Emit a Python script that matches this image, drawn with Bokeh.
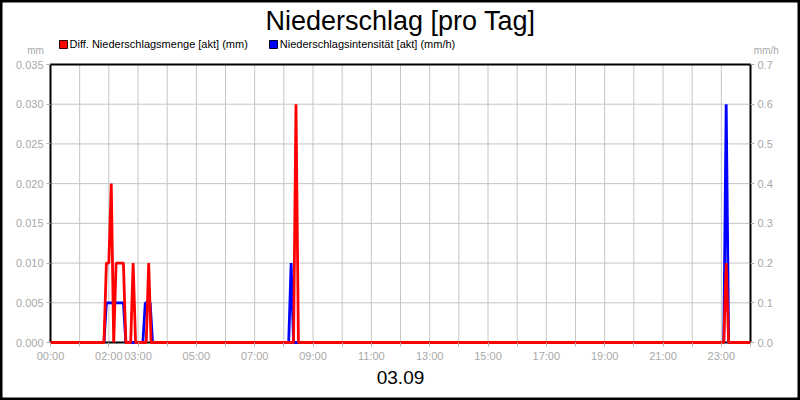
from bokeh.plotting import figure
from bokeh.models import (Range1d, LinearAxis, FixedTicker, PrintfTickFormatter,
                          Label, Legend, LegendItem)
from bokeh.embed import file_html
from bokeh.resources import INLINE

# ---------------- data ----------------
title_text = "Niederschlag [pro Tag]"
date_text = "03.09"
red_name = "Diff. Niederschlagsmenge [akt] (mm)"
blue_name = "Niederschlagsintensität [akt] (mm/h)"
left_unit = "mm"
right_unit = "mm/h"

x_tick_hours = [0, 1, 2, 3, 4, 5, 6, 7, 8, 9, 10, 11, 12,
                13, 14, 15, 16, 17, 18, 19, 20, 21, 22, 23, 24]
x_tick_labels = ["00:00", "", "02:00", "03:00", "", "05:00", "", "07:00", "",
                 "09:00", "", "11:00", "", "13:00", "", "15:00", "", "17:00", "",
                 "19:00", "", "21:00", "", "23:00", ""]
left_ticks = [0.0, 0.005, 0.010, 0.015, 0.020, 0.025, 0.030, 0.035]
right_ticks = [0.0, 0.1, 0.2, 0.3, 0.4, 0.5, 0.6, 0.7]

red_times = ["00:00", "01:50", "01:55", "02:00", "02:05", "02:10", "02:15", "02:20",
             "02:25", "02:30", "02:35", "02:45", "02:50", "02:55", "03:17", "03:22",
             "03:27", "08:20", "08:25", "08:30", "23:05", "23:10", "23:15", "24:00"]
red_values = [0, 0, 0.01, 0.01, 0.02, 0, 0.01, 0.01,
              0.01, 0.01, 0, 0, 0.01, 0, 0, 0.01,
              0, 0, 0.03, 0, 0, 0.01, 0, 0]

blue_times = ["00:00", "01:50", "01:55", "02:30", "02:35", "03:10", "03:15", "03:25",
              "03:30", "08:10", "08:15", "08:20", "23:05", "23:10", "23:15", "24:00"]
blue_values = [0, 0, 0.1, 0.1, 0, 0, 0.1, 0.1,
               0, 0, 0.2, 0, 0, 0.6, 0, 0]


def to_hours(t):
    h, m = t.split(":")
    return int(h) + int(m) / 60.0


red_x = [to_hours(t) for t in red_times]
blue_x = [to_hours(t) for t in blue_times]

# ---------------- layout (pixels) ----------------
W, H = 800, 400
PLOT_L, PLOT_R, PLOT_T, PLOT_B = 50, 750, 64, 342  # plot area in page pixels

x0, x1 = x_tick_hours[0], x_tick_hours[-1]
y0, y1 = left_ticks[0], left_ticks[-1]
r0, r1 = right_ticks[0], right_ticks[-1]
xpp = (x1 - x0) / (PLOT_R - PLOT_L)
ypp = (y1 - y0) / (PLOT_B - PLOT_T)
rpp = (r1 - r0) / (PLOT_B - PLOT_T)
xr = Range1d(x0 - PLOT_L * xpp, x1 + (W - PLOT_R) * xpp)
yr = Range1d(y0 - (H - PLOT_B) * ypp, y1 + PLOT_T * ypp)
rr = Range1d(r0 - (H - PLOT_B) * rpp, r1 + PLOT_T * rpp)

FONT = "Liberation Sans"
GRAY_TXT = "#a8a8a8"
GRID = "#c4c4c4"

p = figure(width=W, height=H, output_backend="svg", toolbar_location=None,
           title=None, x_range=xr, y_range=yr,
           min_border_left=0, min_border_right=0, min_border_top=0,
           min_border_bottom=0)
p.background_fill_color = "white"
p.border_fill_color = "white"
p.outline_line_color = "black"   # outer image frame
p.outline_line_width = 4
p.xgrid.grid_line_color = None
p.ygrid.grid_line_color = None

p.extra_y_ranges = {"right": rr}
raxis = LinearAxis(y_range_name="right", ticker=FixedTicker(ticks=right_ticks),
                   formatter=PrintfTickFormatter(format="%.1f"), fixed_location=x1)
p.add_layout(raxis, "right")

laxis = p.left[0]
laxis.ticker = FixedTicker(ticks=left_ticks)
laxis.formatter = PrintfTickFormatter(format="%.3f")
laxis.fixed_location = x0

xaxis = p.below[0]
xaxis.ticker = FixedTicker(ticks=x_tick_hours)
xaxis.major_label_overrides = {h: lab for h, lab in zip(x_tick_hours, x_tick_labels)}
xaxis.fixed_location = y0

for ax in (laxis, raxis, xaxis):
    ax.axis_line_color = None
    ax.major_tick_line_color = "#b0b0b0"
    ax.major_tick_out = 4
    ax.major_tick_in = 0
    ax.minor_tick_line_color = None
    ax.major_label_text_color = GRAY_TXT
    ax.major_label_text_font = FONT
    ax.major_label_text_font_size = "11px"
    ax.major_label_standoff = 3

# grid lines at the inner tick positions, inside the plot area only
gx = x_tick_hours[1:-1]
gy = left_ticks[1:-1]
p.segment(x0=gx, y0=[y0] * len(gx), x1=gx, y1=[y1] * len(gx),
          line_color=GRID, line_width=1, level="underlay")
p.segment(x0=[x0] * len(gy), y0=gy, x1=[x1] * len(gy), y1=gy,
          line_color=GRID, line_width=1, level="underlay")

# plot-area border (drawn under the data lines)
p.quad(left=[x0], right=[x1], bottom=[y0], top=[y1], fill_color=None,
       line_color="black", line_width=2, level="underlay")

# series (red drawn on top of blue)
p.line(blue_x, blue_values, y_range_name="right", line_color="#0000ff", line_width=2.8)
p.line(red_x, red_values, line_color="#ff0000", line_width=2.8)

# legend (swatch renderers hold no drawable point)
nan = float("nan")
dummy_red = p.quad(left=[nan], right=[nan], bottom=[nan], top=[nan],
                   fill_color="#ff0000", line_color="#300000", line_width=1)
dummy_blue = p.quad(left=[nan], right=[nan], bottom=[nan], top=[nan],
                    fill_color="#0000ff", line_color="#000030", line_width=1)
legend = Legend(items=[LegendItem(label=red_name, renderers=[dummy_red]),
                       LegendItem(label=blue_name, renderers=[dummy_blue])],
                orientation="horizontal",
                location=(57.5, H - 43.7 - 6.2),
                glyph_width=10, glyph_height=10, label_height=10, label_width=10,
                label_standoff=2, spacing=20, padding=0, margin=0,
                border_line_color=None, background_fill_alpha=0,
                label_text_font=FONT, label_text_font_size="11px",
                label_text_color="black")
p.add_layout(legend)

# texts
p.add_layout(Label(x=(x0 + x1) / 2, y=y1, y_offset=43.5, text=title_text,
                   text_align="center", text_baseline="alphabetic", text_font=FONT,
                   text_font_size="27px", text_color="black"))
p.add_layout(Label(x=(x0 + x1) / 2, y=y0, y_offset=-35, text=date_text,
                   text_align="center", text_baseline="alphabetic", text_font=FONT,
                   text_font_size="19px", text_color="black"))
p.add_layout(Label(x=x0, y=y1, x_offset=-6.7, y_offset=14.5, text=left_unit,
                   text_align="right", text_baseline="alphabetic", text_font=FONT,
                   text_font_size="10px", text_color=GRAY_TXT))
p.add_layout(Label(x=x1, y=y1, x_offset=3.3, y_offset=14.5, text=right_unit,
                   text_align="left", text_baseline="alphabetic", text_font=FONT,
                   text_font_size="10px", text_color=GRAY_TXT))

open("out.html", "w").write(file_html(p, INLINE))
